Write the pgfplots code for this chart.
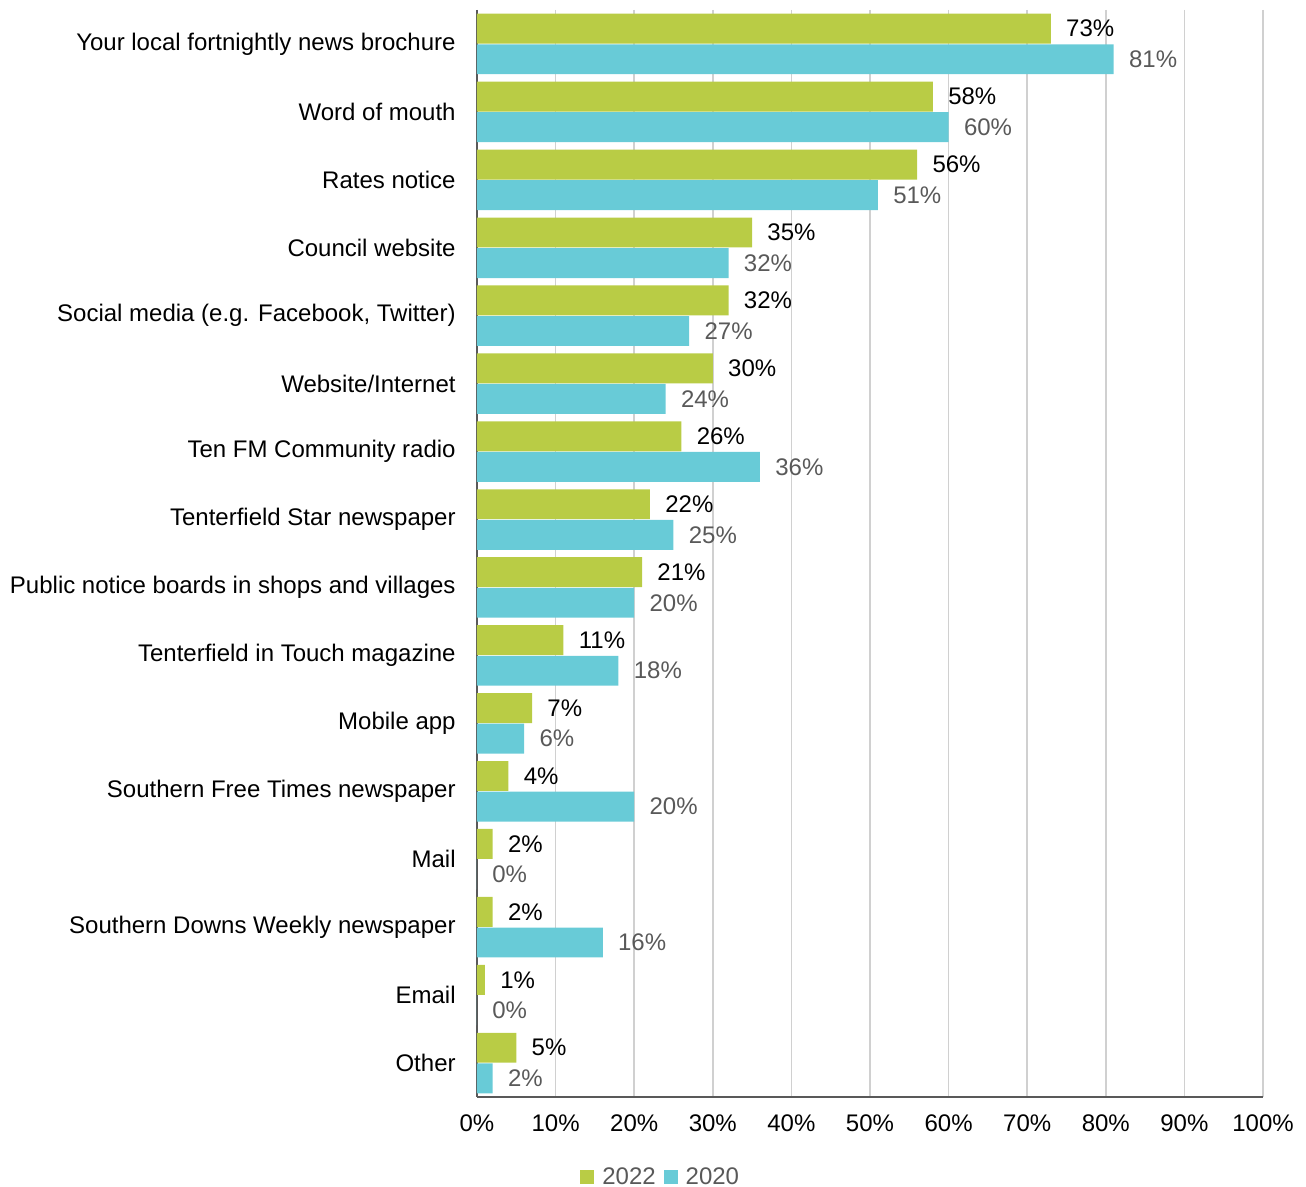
\documentclass[border=0pt]{standalone}
\usepackage{pgfplots}
\pgfplotsset{compat=1.18}
\usepackage{fontspec}
\setmainfont{Liberation Sans}
\definecolor{cgreen}{RGB}{185,204,69}
\definecolor{ccyan}{RGB}{104,203,215}
\definecolor{cgray}{RGB}{89,89,89}
\definecolor{cgrid}{RGB}{208,208,208}
\begin{document}
\fontsize{12}{14}\selectfont
\begin{tikzpicture}
\useasboundingbox (-238.5pt,-45pt) rectangle (414.5pt,548.5pt);
\begin{axis}[
  at={(0,0)}, anchor=south west,
  scale only axis, width=393pt, height=543.5pt,
  xmin=0, xmax=100, ymin=-0.5, ymax=15.5, y dir=reverse,
  xtick={0,10,...,100},
  xticklabel={\pgfmathprintnumber{\tick}\%},
  /pgf/number format/assume math mode=true,
  ytick={0,...,15},
  yticklabels={Your local fortnightly news brochure, Word of mouth, Rates notice, Council website, {Social media (e.g. Facebook, Twitter)}, Website/Internet, Ten FM Community radio, Tenterfield Star newspaper, Public notice boards in shops and villages, Tenterfield in Touch magazine, Mobile app, Southern Free Times newspaper, Mail, Southern Downs Weekly newspaper, Email, Other},
  major tick length=0pt,
  tick label style={font=\fontsize{12}{14}\selectfont, text=black},
  yticklabel style={xshift=-6.5pt},
  xticklabel style={yshift=-4.5pt},
  xmajorgrids, grid style={cgrid, line width=0.8pt},
  axis x line*=bottom, axis y line*=left,
  axis line style={cgray, line width=1.2pt, -},
  xbar, bar width=0.44,
  clip=false,
  point meta=x,
  nodes near coords={\pgfmathprintnumber{\pgfplotspointmeta}\%},
  nodes near coords align={horizontal},
  every node near coord/.append style={font=\fontsize{12}{14}\selectfont, anchor=west, inner sep=0pt, xshift=7.5pt},
  legend columns=2,
  legend style={at={(0.235,-0.074)}, anchor=center, draw=none, fill=none, font=\fontsize{12}{14}\selectfont, text=cgray, column sep=2pt, inner sep=0pt, nodes={inner xsep=2pt}},
  legend image code/.code={\fill[#1, draw=none] (0pt,-3.5pt) rectangle (7pt,3.5pt);},
]
\addplot[fill=cgreen, draw=none, bar shift=-0.225, every node near coord/.append style={text=black}] coordinates {
(73,0) (58,1) (56,2) (35,3) (32,4) (30,5) (26,6) (22,7) (21,8) (11,9) (7,10) (4,11) (2,12) (2,13) (1,14) (5,15)};
\addplot[fill=ccyan, draw=none, bar shift=0.225, every node near coord/.append style={text=cgray}] coordinates {
(81,0) (60,1) (51,2) (32,3) (27,4) (24,5) (36,6) (25,7) (20,8) (18,9) (6,10) (20,11) (0,12) (16,13) (0,14) (2,15)};
\legend{2022,2020}
\end{axis}
\end{tikzpicture}
\end{document}
